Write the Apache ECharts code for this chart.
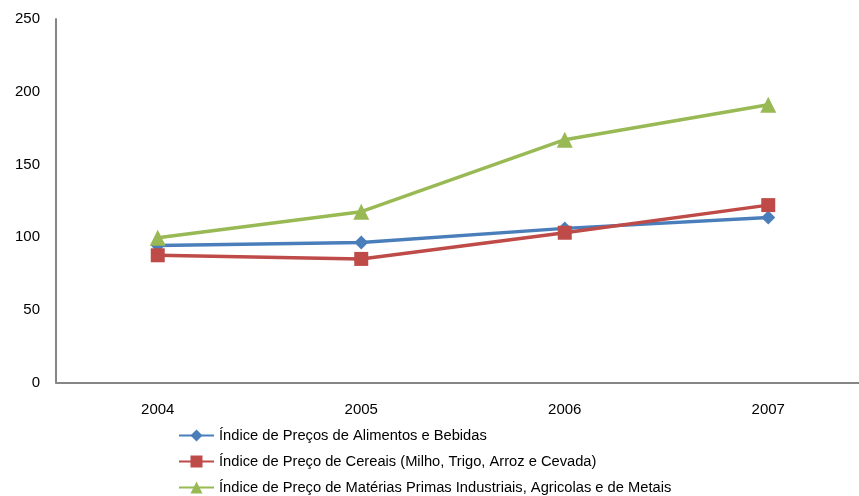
<!DOCTYPE html>
<html>
<head>
<meta charset="utf-8">
<script src="https://cdn.jsdelivr.net/npm/echarts@6/dist/echarts.min.js"></script>
<style>
  html, body { margin: 0; padding: 0; background: #ffffff; overflow: hidden; }
  #chart { width: 870px; height: 496px; }
</style>
</head>
<body>
<div id="chart"></div>
<script>
// Years on the category axis
const years = ['2004', '2005', '2006', '2007'];

// Index series
const alimentosBebidas = [94.2, 96.3, 106, 113.5];
const cereais = [87.5, 85, 103, 122];
const materiasPrimas = [99.5, 117.5, 167, 191];

// Y axis ticks
const yMin = 0;
const yMax = 250;
const yStep = 50;

const seriesNames = [
  'Índice de Preços de Alimentos e Bebidas',
  'Índice de Preço de Cereais (Milho, Trigo, Arroz e Cevada)',
  'Índice de Preço de Matérias Primas Industriais, Agricolas e de Metais'
];

// The plot runs a little past the right edge of the page, so the canvas is
// slightly wider than the visible window and the overflow is hidden.
const chart = echarts.init(document.getElementById('chart'), null, { renderer: 'canvas' });

function lineSeries(name, data, color, symbol, size) {
  return {
    name: name,
    type: 'line',
    data: data,
    symbol: symbol,
    symbolSize: size,
    showAllSymbol: true,
    itemStyle: { color: color },
    lineStyle: { color: color, width: 3.5 },
    emphasis: { disabled: true },
    animation: false
  };
}

chart.setOption({
  backgroundColor: '#ffffff',
  animation: false,
  textStyle: { fontFamily: 'Liberation Sans, Arial, sans-serif' },
  grid: { left: 56, top: 19, bottom: 113.5, right: 0, containLabel: false },
  xAxis: {
    type: 'category',
    data: years,
    boundaryGap: true,
    axisLine: { lineStyle: { color: '#868686', width: 2 } },
    axisTick: { show: false },
    axisLabel: { color: '#000000', fontSize: 15, margin: 20 },
    splitLine: { show: false }
  },
  yAxis: {
    type: 'value',
    min: yMin,
    max: yMax,
    interval: yStep,
    axisLine: { show: true, lineStyle: { color: '#868686', width: 2 } },
    axisTick: { show: false },
    axisLabel: { color: '#000000', fontSize: 15, margin: 16 },
    splitLine: { show: false }
  },
  legend: {
    orient: 'vertical',
    left: 178,
    top: 428,
    height: 120,
    padding: 0,
    itemWidth: 35,
    itemHeight: 15,
    itemGap: 11,
    itemTextGap: 3,
    textStyle: { color: '#000000', fontSize: 14.7, lineHeight: 15, fontFamily: 'Liberation Sans, Arial, sans-serif' },
    data: seriesNames
  },
  series: [
    lineSeries(seriesNames[0], alimentosBebidas, '#4a7ebb', 'diamond', 14),
    lineSeries(seriesNames[1], cereais, '#be4b48', 'rect', 14),
    lineSeries(seriesNames[2], materiasPrimas, '#98b954', 'triangle', 16)
  ]
});
</script>
</body>
</html>
